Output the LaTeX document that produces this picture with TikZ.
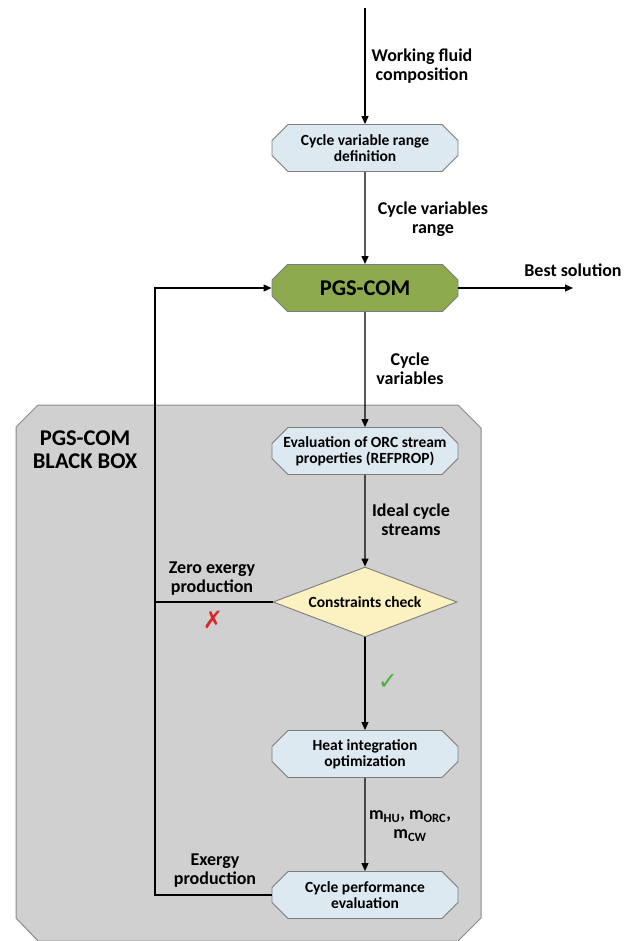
\documentclass[tikz,border=0pt]{standalone}
\usepackage{fontspec}
\setmainfont{Carlito}
\newfontfamily\symfont{DejaVu Sans}
\usetikzlibrary{shapes.misc,shapes.geometric,arrows.meta}
\definecolor{boxblue}{HTML}{DDE9F1}
\definecolor{boxedge}{HTML}{7C7C7C}
\definecolor{pgsgreen}{HTML}{8DAA4F}
\definecolor{diafill}{HTML}{FCF1C0}
\definecolor{bbgray}{HTML}{D0D0D0}
\definecolor{bbedge}{HTML}{8A8A8A}
\definecolor{xred}{HTML}{D9252B}
\definecolor{okgreen}{HTML}{4DAF3E}
\tikzset{
  procbox/.style={chamfered rectangle, chamfered rectangle xsep=8pt, chamfered rectangle ysep=8pt,
    draw=boxedge, line width=0.9pt, fill=boxblue, minimum width=186pt, minimum height=47pt,
    inner sep=0pt, align=center, font=\fontsize{15.5}{16}\selectfont\bfseries},
  pgsbox/.style={procbox, fill=pgsgreen, font=\fontsize{22.5}{24}\selectfont\bfseries},
  checkdia/.style={diamond, shape aspect=2.6, draw=boxedge, line width=0.9pt, fill=diafill,
    minimum width=184pt, minimum height=70pt, inner sep=0pt, font=\fontsize{15.5}{16}\selectfont\bfseries},
  bbstyle/.style={draw=bbedge, line width=1pt, fill=bbgray},
  lbl/.style={align=center, inner sep=0pt, font=\fontsize{18}{19}\selectfont\bfseries},
  arr/.style={line width=1.1pt, -{Triangle[length=8pt,width=7pt]}},
  ln/.style={line width=1.1pt},
  mark sym/.style={inner sep=0pt, font=\fontsize{24}{24}\selectfont\symfont},
}
\begin{document}
\begin{tikzpicture}[x=1pt,y=-1pt]
\useasboundingbox (0,0) rectangle (633,941);
% container
\draw[bbstyle] (16,427) -- (38,405) -- (458,405) -- (481,428) -- (481,918) -- (458,941)
  -- (38,941) -- (16,918) -- cycle;
\node[align=center, inner sep=0pt, font=\fontsize{22.5}{23}\selectfont\bfseries] (bbl) at (85,450) {PGS-COM\\BLACK BOX};
% boxes
\coordinate (top) at (365,8);
\node[procbox] (b1) at (365,148) {Cycle variable range\\definition};
\node[pgsbox] (pgs) at (365,288) {PGS-COM};
\node[procbox] (b2) at (365,451) {Evaluation of ORC stream\\properties (REFPROP)};
\node[checkdia] (dia) at (365,602) {Constraints check};
\node[procbox] (b3) at (365,754) {Heat integration\\optimization};
\node[procbox] (b4) at (365,895) {Cycle performance\\evaluation};
\coordinate (best) at (573,288);
\coordinate (fb) at (155,895);
% connectors
\draw[arr] (top) -- (b1);
\draw[arr] (b1) -- (pgs);
\draw[arr] (pgs) -- (b2);
\draw[arr] (b2) -- (dia);
\draw[arr] (dia) -- (b3);
\draw[arr] (b3) -- (b4);
\draw[arr] (pgs.east) -- (best);
\draw[arr] (b4.west) -- (fb) |- (pgs.west);
\draw[ln] (dia.west) -- (dia.west -| fb);
% labels
\node[lbl] (l1) at (422,66) {Working fluid\\composition};
\node[lbl] (l2) at (433,219) {Cycle variables\\range};
\node[lbl] (l3) at (573,270) {Best solution};
\node[lbl] (l4) at (410,369) {Cycle\\variables};
\node[lbl] (l5) at (411,520) {Ideal cycle\\streams};
\node[lbl] (l6) at (212,579) {Zero exergy\\production};
\node[lbl] (l7) at (215,871) {Exergy\\production};
\node[lbl] (l8) at (410,826) {m\textsubscript{HU}, m\textsubscript{ORC},\\m\textsubscript{CW}};
\node[mark sym, text=xred] (xm) at (213,620) {✗};
\node[mark sym, text=okgreen] (cm) at (388,682) {✓};
\end{tikzpicture}
\end{document}
